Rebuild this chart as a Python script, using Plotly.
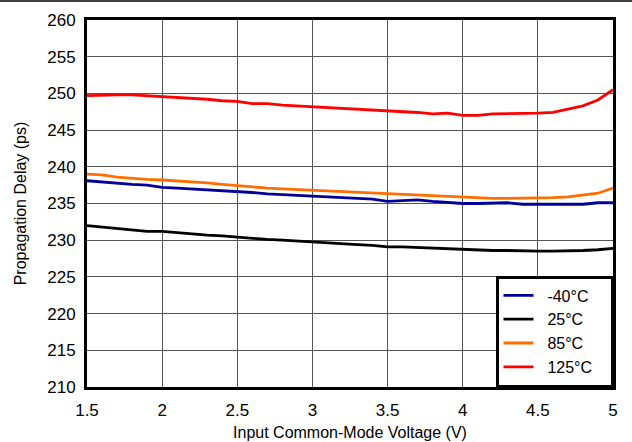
import plotly.graph_objects as go

vcm = [1.5, 1.6, 1.7, 1.8, 1.9, 2.0, 2.1, 2.2, 2.3, 2.4, 2.5, 2.6, 2.7, 2.8, 2.9, 3.0, 3.1, 3.2,
       3.3, 3.4, 3.5, 3.6, 3.7, 3.8, 3.9, 4.0, 4.1, 4.2, 4.3, 4.4, 4.5, 4.6, 4.7, 4.8, 4.9, 5.0]

delay_m40 = [238.1, 237.9, 237.8, 237.6, 237.5, 237.2, 237.1, 237.0, 236.9, 236.8, 236.6, 236.5, 236.3, 236.2, 236.1, 235.9,
             235.9, 235.8, 235.7, 235.6, 235.3, 235.4, 235.5, 235.3, 235.1, 235.0, 235.0, 235.0, 235.1, 234.9, 234.9,
             234.9, 235.0, 234.9, 235.1, 235.1]
delay_25 = [232.0, 231.8, 231.6, 231.4, 231.2, 231.2, 231.0, 230.9, 230.7, 230.6, 230.4, 230.3, 230.1, 230.0, 229.9, 229.7,
            229.6, 229.5, 229.4, 229.3, 229.1, 229.1, 229.0, 228.9, 228.8, 228.7, 228.7, 228.6, 228.6, 228.5, 228.5,
            228.5, 228.5, 228.6, 228.7, 228.9]
delay_85 = [239.0, 238.9, 238.6, 238.4, 238.3, 238.2, 238.1, 238.0, 237.8, 237.6, 237.4, 237.3, 237.1, 237.0, 236.9, 236.8,
            236.7, 236.6, 236.5, 236.4, 236.3, 236.3, 236.1, 236.0, 235.9, 235.8, 235.7, 235.7, 235.7, 235.7, 235.7,
            235.8, 235.9, 236.1, 236.4, 237.1]
delay_125 = [249.7, 249.8, 249.8, 249.8, 249.7, 249.5, 249.4, 249.3, 249.2, 249.0, 248.9, 248.6, 248.6, 248.4, 248.3, 248.1,
             248.0, 247.9, 247.8, 247.7, 247.6, 247.5, 247.4, 247.2, 247.3, 247.0, 247.0, 247.2, 247.2, 247.2, 247.3,
             247.4, 247.8, 248.3, 249.1, 250.5]

series = [
    ("-40°C", delay_m40, "#000099"),
    ("25°C", delay_25, "#000000"),
    ("85°C", delay_85, "#FF6F00"),
    ("125°C", delay_125, "#FF0000"),
]

x_ticks = [1.5, 2, 2.5, 3, 3.5, 4, 4.5, 5]
y_ticks = list(range(210, 261, 5))

NB = "\u00a0"
fig = go.Figure()
for name, vals, col in series:
    fig.add_trace(go.Scatter(x=vcm, y=vals, name=NB * 2 + name + NB * 3, mode="lines",
                             line=dict(color=col, width=2.8)))

FAM = "Liberation Sans, Arial, sans-serif"
font = dict(family=FAM, size=16, color="#000000")
tickfont = dict(family=FAM, size=17, color="#000000")

L, R, T, B = 87, 19, 20, 55
W, H = 632, 442
pw, ph = W - L - R, H - T - B

fig.update_layout(
    width=W, height=H,
    margin=dict(l=L, r=R, t=T, b=B, autoexpand=False),
    paper_bgcolor="white", plot_bgcolor="white",
    font=font,
    showlegend=True,
    legend=dict(x=1, y=0, xanchor="right", yanchor="bottom",
                bgcolor="white", bordercolor="#000000", borderwidth=2.5,
                font=dict(family=FAM, size=16, color="#000"),
                tracegroupgap=0, itemwidth=30),
    xaxis=dict(range=[1.5, 5], tickvals=x_ticks, ticktext=[str(t) for t in x_ticks],
               tickfont=tickfont, ticklabelstandoff=6, automargin=False,
               showgrid=True, gridcolor="#555555", gridwidth=1,
               showline=True, linecolor="#000000", linewidth=3, mirror=True,
               ticks="", zeroline=False,
               title=dict(text="Input Common-Mode Voltage (V)", standoff=8, font=font)),
    yaxis=dict(range=[210, 260], tickvals=y_ticks,
               tickfont=tickfont, ticklabelstandoff=5, automargin=False,
               showgrid=True, gridcolor="#555555", gridwidth=1,
               showline=True, linecolor="#000000", linewidth=3, mirror=True,
               ticks="", zeroline=False,
               title=dict(text="Propagation Delay (ps)", standoff=17, font=font)),
    shapes=[dict(type="line", xref="paper", yref="paper",
                 x0=-L / pw, x1=(W - L) / pw, y0=1 + (T - 1) / ph, y1=1 + (T - 1) / ph,
                 line=dict(color="#000000", width=1.5))],
)

fig.write_html(
    "out.html",
    config={"displayModeBar": False},
    post_script=(
        "document.body.style.margin='0';document.body.style.padding='0';"
        "document.body.style.overflow='hidden';"
        "var d=document.getElementById('{plot_id}');"
        "d.style.position='fixed';d.style.top='0px';d.style.left='0px';"
        "window.scrollTo(0,0);"
    ),
)
